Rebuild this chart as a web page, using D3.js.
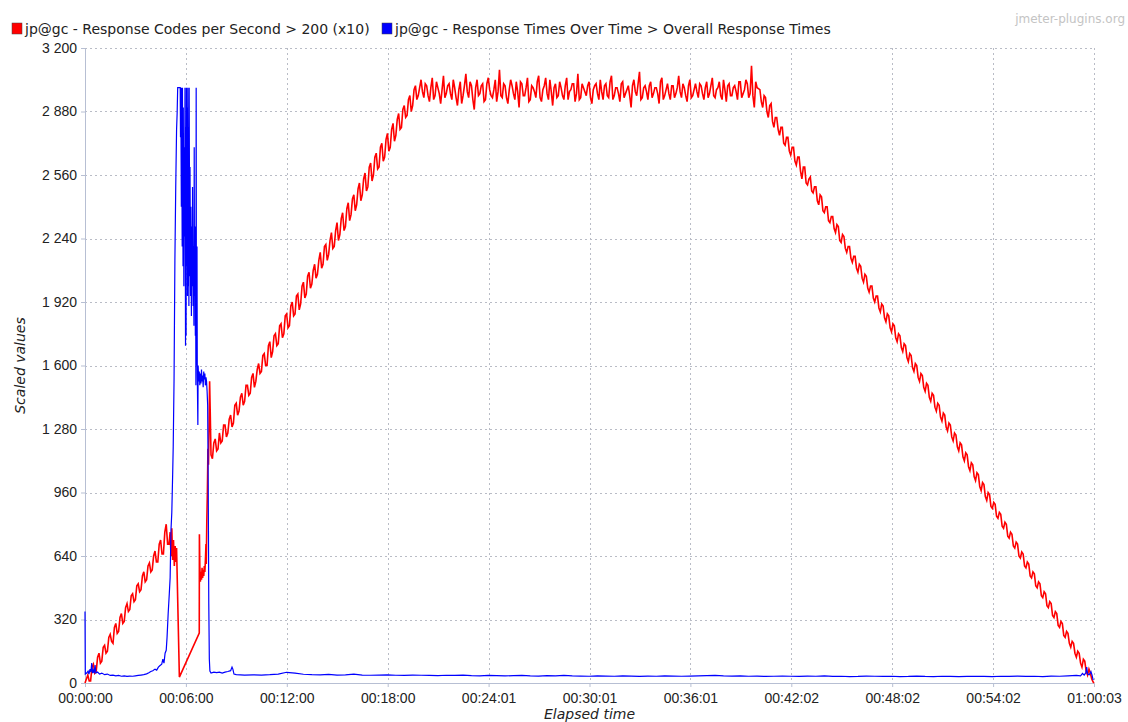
<!DOCTYPE html>
<html>
<head>
<meta charset="utf-8">
<script src="https://cdn.jsdelivr.net/npm/d3@7"></script>
<style>
  body { margin: 0; background: #fff; }
  svg { font-family: "DejaVu Sans", sans-serif; }
  .grid line { stroke: #b9bcc6; stroke-dasharray: 2,3; }
  .axis path, .axis line { stroke: #b7bfd3; }
  .axis text { font-size: 14px; fill: #222; }
  .line { fill: none; stroke-width: 1.2; stroke-linejoin: miter; }
  .line.red { stroke-width: 1.6; }
</style>
</head>
<body>
<script>
// Legend / axis texts
var seriesNames = ['jp@gc - Response Codes per Second > 200 (x10)',
                   'jp@gc - Response Times Over Time > Overall Response Times'];
var seriesColors = ['#ff0000', '#0000ff'];

// Tick positions (elapsed seconds) and their labels
var xTickSeconds = [0, 360.3, 720.6, 1080.9, 1441.2, 1801.5, 2161.8, 2522.1, 2882.4, 3242.7, 3603];
var xTickLabels = ['00:00:00', '00:06:00', '00:12:00', '00:18:00', '00:24:01', '00:30:01',
                   '00:36:01', '00:42:02', '00:48:02', '00:54:02', '01:00:03'];
var yTicks = [0, 320, 640, 960, 1280, 1600, 1920, 2240, 2560, 2880, 3200];

// Red series: response codes per second (x10).
// Regular parts are sampled every 10 s, with a second set of samples 5 s later.
var redStep = 10;
var redRise1 = [0, 40, 10, 95, 60, 150, 110, 190, 160, 245, 200, 300, 260, 350, 310, 400,
  370, 450, 420, 500, 470, 560, 520, 605, 570, 665, 610, 720, 650, 800, 700]; // from 0 s
var redRise1Mid = [20, 10, 80, 50, 130, 100, 180, 150, 230, 210, 280, 250, 330, 300, 380,
  360, 440, 410, 490, 460, 540, 510, 590, 560, 640, 610, 700, 650, 760, 700]; // from 5 s
var redDip = [[304, 760], [307, 640], [310, 780], [313, 620], [316, 720], [319, 590], [322, 690],
  [325, 610], [327, 680], [337, 30], [408, 252], [408.5, 750], [410, 590], [412, 510], [414, 560],
  [416, 520], [418, 580], [420, 530], [422, 570], [424, 540], [426, 590], [428, 560], [430, 620],
  [432, 700], [433, 600], [435, 820], [437, 960], [439, 1180], [441, 1100], [443, 1300],
  [445, 1520], [447, 1380]];
var redRise2 = [ // from 450 s
  1150, 1210, 1170, 1260, 1220, 1300, 1260, 1350, 1310, 1410,
  1370, 1460, 1420, 1500, 1460, 1560, 1520, 1610, 1570, 1660,
  1600, 1720, 1670, 1760, 1710, 1810, 1760, 1860, 1800, 1920,
  1860, 1960, 1910, 2020, 1960, 2070, 2010, 2110, 2060, 2170,
  2110, 2210, 2160, 2270, 2200, 2320, 2260, 2370, 2300, 2420,
  2360, 2460, 2410, 2520, 2460, 2570, 2500, 2620, 2560, 2670,
  2600, 2720, 2650, 2770, 2700, 2820, 2760, 2870, 2800, 2910,
  2860, 2960, 2910, 3010, 2960];
var redRise2Mid = [ // from 455 s
  1130, 1230, 1180, 1210, 1300, 1240, 1330, 1290, 1400, 1350,
  1440, 1400, 1500, 1450, 1540, 1490, 1580, 1560, 1650, 1600,
  1700, 1640, 1750, 1700, 1800, 1740, 1850, 1790, 1900, 1850,
  1950, 1880, 2000, 1940, 2050, 1990, 2080, 2040, 2130, 2090,
  2200, 2130, 2230, 2190, 2280, 2230, 2340, 2280, 2390, 2330,
  2440, 2380, 2490, 2430, 2540, 2480, 2600, 2530, 2650, 2590,
  2700, 2630, 2740, 2680, 2790, 2730, 2840, 2790, 2890, 2850,
  2940, 2880, 2990, 2940, 3000];
var redPlateau = [ // from 1200 s
  3040, 2950, 3010, 2930, 3050, 2960, 3000, 2920, 3060, 2970,
  3020, 2940, 3000, 2910, 3030, 2960, 3070, 2950, 3010, 2890,
  3040, 2970, 3020, 2940, 3050, 2960, 2990, 2930, 3090, 2950,
  3010, 2920, 3040, 2970, 3030, 2900, 3020, 2960, 3050, 2940,
  3000, 2950, 3060, 2930, 3010, 2970, 3040, 2910, 3020, 2960,
  3000, 2940, 3050, 2980, 3020, 2930, 3070, 2950, 3000, 2960,
  3030, 2920, 3010, 2970, 3040, 2940, 3020, 2950, 3060, 2960,
  3000, 2930, 3030, 2970, 3010, 2900, 3040, 2960, 3080, 2950,
  3010, 2940, 3030, 2970, 3000, 2920, 3050, 2960, 3020, 2940,
  3010, 2970, 3060, 2950, 3000, 2930, 3040, 2960, 3020, 2950,
  3010, 2940, 3030, 2970, 3050, 2950, 3000, 2960, 3040, 2930,
  3020, 2960, 3010, 2940, 3030, 2970, 3040, 2950, 3110, 2900,
  3000];
var redPlateauMid = [ // from 1205 s
  2980, 3020, 2960, 3000, 2940, 3030, 2970, 2990, 2950, 3010,
  2970, 3040, 2950, 2990, 2920, 3010, 2980, 3030, 2940, 3000,
  2960, 3010, 2930, 3020, 2990, 2950, 3040, 2980, 2960, 3020,
  2950, 2990, 3010, 2940, 2980, 3030, 2960, 3000, 2930, 3010,
  2980, 3030, 2950, 2990, 3050, 2940, 2980, 3000, 2950, 3030,
  2960, 3010, 2940, 2990, 3020, 2970, 2940, 3020, 2980, 3010,
  2950, 2990, 3020, 2940, 2980, 3010, 2960, 3030, 2940, 3000,
  2970, 3020, 2950, 2990, 2960, 3010, 2980, 3020, 2940, 3000,
  2980, 3010, 2950, 3000, 2970, 3030, 2940, 2990, 2970, 3010,
  2950, 3000, 2980, 3020, 2960, 3010, 2950, 2990, 2980, 3020,
  2970, 3000, 2950, 3010, 2960, 2990, 3030, 2940, 2990, 3010,
  2960, 3000, 2980, 3030, 2950, 2990, 3020, 2970, 2960, 3030];
var redFall = [ // from 2410 s
  2990, 2900, 2950, 2850, 2920, 2800, 2850, 2760, 2800, 2710,
  2750, 2660, 2700, 2610, 2650, 2540, 2600, 2510, 2550, 2470,
  2500, 2410, 2450, 2370, 2400, 2320, 2350, 2270, 2300, 2220,
  2250, 2170, 2200, 2120, 2150, 2070, 2100, 2020, 2050, 1970,
  2000, 1920, 1950, 1870, 1900, 1820, 1850, 1770, 1800, 1720,
  1750, 1670, 1700, 1620, 1650, 1570, 1600, 1520, 1550, 1470,
  1500, 1420, 1450, 1370, 1400, 1320, 1350, 1270, 1300, 1220,
  1250, 1170, 1200, 1120, 1150, 1070, 1100, 1020, 1050, 970,
  1000, 920, 950, 880, 900, 830, 850, 780, 800, 730,
  750, 680, 700, 630, 650, 580, 600, 530, 550, 480,
  500, 430, 450, 380, 400, 330, 350, 280, 300, 230,
  250, 180, 200, 130, 150, 80, 110, 40, 50, 5];
var redFallMid = [ // from 2415 s
  2930, 2960, 2880, 2910, 2830, 2850, 2790, 2800, 2720, 2750,
  2680, 2700, 2630, 2650, 2580, 2600, 2520, 2540, 2480, 2500,
  2430, 2460, 2380, 2400, 2330, 2350, 2290, 2310, 2230, 2260,
  2190, 2200, 2140, 2150, 2090, 2110, 2040, 2060, 1990, 2000,
  1940, 1950, 1890, 1910, 1840, 1860, 1790, 1810, 1740, 1760,
  1690, 1710, 1640, 1660, 1590, 1610, 1540, 1560, 1490, 1510,
  1440, 1460, 1390, 1410, 1340, 1360, 1290, 1310, 1240, 1260,
  1190, 1210, 1140, 1160, 1090, 1110, 1040, 1060, 990, 1010,
  940, 960, 890, 910, 840, 860, 790, 810, 740, 760,
  690, 710, 640, 660, 590, 610, 540, 560, 490, 510,
  440, 460, 390, 410, 340, 360, 290, 310, 240, 260,
  200, 210, 150, 160, 100, 120, 60, 70, 20];
var redEnd = [[3603, 0]];

// Blue series: overall response times
var blueStart = [[0, 360], [1, 45], [6, 50], [11, 60], [14, 45], [18, 70], [21, 55], [24, 100],
  [27, 50], [30, 65], [33, 50], [36, 90], [39, 50], [45, 55], [52, 45], [60, 50], [70, 42],
  [80, 45], [90, 38], [100, 40], [110, 36], [120, 38], [130, 34], [140, 36], [150, 33],
  [160, 35], [170, 34], [180, 36], [190, 38], [200, 40], [210, 42], [220, 46], [228, 52],
  [235, 58], [242, 62], [250, 70], [256, 65], [262, 80], [268, 88], [274, 95], [278, 120],
  [282, 100], [286, 150], [290, 165], [293, 230], [297, 350], [301, 450], [304, 530],
  [307, 770], [310, 860], [313, 1050], [315, 1190], [318, 1530], [321, 2130], [324, 2500],
  [327, 2790], [329, 2870], [331, 3000], [337, 3000], [340, 3000], [341, 2750], [342, 3000],
  [344, 2400], [345, 3000], [347, 2200], [348, 3000], [350, 2100], [351, 2900], [353, 2000],
  [354, 2700], [356, 2250], [357, 3000], [359, 1700], [360, 2800], [361, 1750], [362, 3000],
  [364, 2100], [365, 2900], [366, 1950], [367, 3000], [369, 2000], [370, 2800], [371, 1900],
  [372, 3000], [374, 2050], [375, 2600], [377, 1950], [378, 2400], [380, 1850], [381, 2300],
  [383, 2000], [384, 2500], [386, 1900], [387, 2200], [389, 1800], [390, 2700], [391, 1950],
  [393, 2300], [394, 1750], [395, 2100], [396, 1500], [397, 3000], [398, 1600], [400, 2200],
  [401, 1550], [403, 1300], [404, 1600], [406, 1520], [408, 1570], [410, 1500], [412, 1560],
  [414, 1510], [416, 1580], [418, 1520], [420, 1550], [422, 1490], [424, 1570], [426, 1530],
  [428, 1560], [430, 1500], [432, 1540], [434, 1520], [436, 1470], [438, 1400], [440, 1000],
  [442, 400], [444, 120], [446, 60], [450, 50], [460, 55], [470, 52], [480, 55], [490, 50],
  [500, 55], [510, 58], [520, 62], [525, 80], [528, 70], [532, 45]];
var blueStep = 30;
var blueTail = [ // from 540 s
  42, 40, 41, 40, 42, 45, 54, 50, 44, 42, 41,
  43, 40, 41, 45, 40, 39, 40, 41, 39, 38, 40,
  39, 38, 37, 39, 38, 40, 37, 36, 38, 37, 36,
  37, 38, 36, 35, 37, 36, 38, 36, 35, 34, 36,
  35, 34, 36, 35, 33, 35, 34, 36, 35, 34, 35,
  36, 37, 38, 36, 35, 36, 34, 35, 33, 34, 35,
  34, 33, 35, 34, 36, 33, 34, 32, 33, 35, 34,
  33, 34, 32, 33, 35, 33, 32, 34, 33, 32, 33,
  34, 33, 32, 34, 33, 35, 33, 34, 32, 35, 34,
  36, 38];
var blueEnd = [[3555, 36], [3562, 48], [3568, 40], [3574, 52], [3577, 80], [3580, 45],
  [3586, 42], [3592, 58], [3596, 40], [3600, 15]];

function stepped(t0, step, values) {
  return values.map(function(v, i) { return [t0 + i * step, v]; });
}

var redData = [].concat(
    stepped(0, redStep, redRise1), stepped(5, redStep, redRise1Mid), redDip,
    stepped(450, redStep, redRise2), stepped(455, redStep, redRise2Mid),
    stepped(1200, redStep, redPlateau), stepped(1205, redStep, redPlateauMid),
    stepped(2410, redStep, redFall), stepped(2415, redStep, redFallMid), redEnd)
  .sort(function(a, b) { return a[0] - b[0]; });
var blueData = [].concat(blueStart, stepped(540, blueStep, blueTail), blueEnd);

var margin = {top: 48, right: 34, bottom: 39, left: 85};
var width = 1128 - margin.left - margin.right;
var height = 722 - margin.top - margin.bottom;

var x = d3.scaleLinear().domain([0, 3603]).range([0, width]);
var y = d3.scaleLinear().domain([0, 3200]).range([height, 0]);

var fmt = d3.formatLocale({decimal: ',', thousands: ' ', grouping: [3], currency: ['', '']}).format(',d');

var svg = d3.select('body').append('svg')
    .attr('width', 1128)
    .attr('height', 722);

var g = svg.append('g')
    .attr('transform', 'translate(' + margin.left + ',' + margin.top + ')');

// Grid
var grid = g.append('g').attr('class', 'grid');
grid.selectAll('.vx').data(xTickSeconds.slice(1)).enter().append('line')
    .attr('x1', function(d) { return Math.round(x(d)) + 0.5; })
    .attr('x2', function(d) { return Math.round(x(d)) + 0.5; })
    .attr('y1', 0).attr('y2', height);
grid.selectAll('.hy').data(yTicks.slice(1)).enter().append('line')
    .attr('y1', function(d) { return Math.round(y(d)) + 0.5; })
    .attr('y2', function(d) { return Math.round(y(d)) + 0.5; })
    .attr('x1', 0).attr('x2', width);

// Axes
g.append('g')
    .attr('class', 'axis')
    .attr('transform', 'translate(0,' + height + ')')
    .call(d3.axisBottom(x)
      .tickValues(xTickSeconds)
      .tickFormat(function(d, i) { return xTickLabels[i]; })
      .tickSize(4).tickSizeOuter(0).tickPadding(6));

g.append('g')
    .attr('class', 'axis')
    .call(d3.axisLeft(y)
      .tickValues(yTicks)
      .tickFormat(fmt)
      .tickSize(4).tickSizeOuter(0).tickPadding(4));

// Lines
var valueline = d3.line()
    .x(function(d) { return x(d[0]); })
    .y(function(d) { return y(d[1]); });

g.append('path')
    .attr('class', 'line red')
    .attr('stroke', seriesColors[0])
    .attr('d', valueline(redData));

g.append('path')
    .attr('class', 'line')
    .attr('stroke', seriesColors[1])
    .attr('d', valueline(blueData));

// Axis titles
svg.append('text')
    .attr('x', margin.left + width / 2)
    .attr('y', 719)
    .attr('text-anchor', 'middle')
    .style('font-size', '14px')
    .style('font-style', 'italic')
    .style('fill', '#222')
    .text('Elapsed time');

svg.append('text')
    .attr('transform', 'translate(25,' + (margin.top + height / 2) + ') rotate(-90)')
    .attr('text-anchor', 'middle')
    .style('font-size', '14px')
    .style('font-style', 'italic')
    .style('fill', '#222')
    .text('Scaled values');

// Legend
var legendX = [12, 382];
seriesNames.forEach(function(name, i) {
  svg.append('rect')
      .attr('x', legendX[i]).attr('y', 23)
      .attr('width', 10).attr('height', 11)
      .attr('fill', seriesColors[i])
      .attr('stroke', '#444').attr('stroke-width', 0.5);
  svg.append('text')
      .attr('x', legendX[i] + 13).attr('y', 34)
      .style('font-size', '14px')
      .style('fill', '#222')
      .text(name);
});

svg.append('text')
    .attr('x', 1125).attr('y', 23)
    .attr('text-anchor', 'end')
    .style('font-size', '12px')
    .style('fill', '#c4c4c4')
    .text('jmeter-plugins.org');
</script>
</body>
</html>
